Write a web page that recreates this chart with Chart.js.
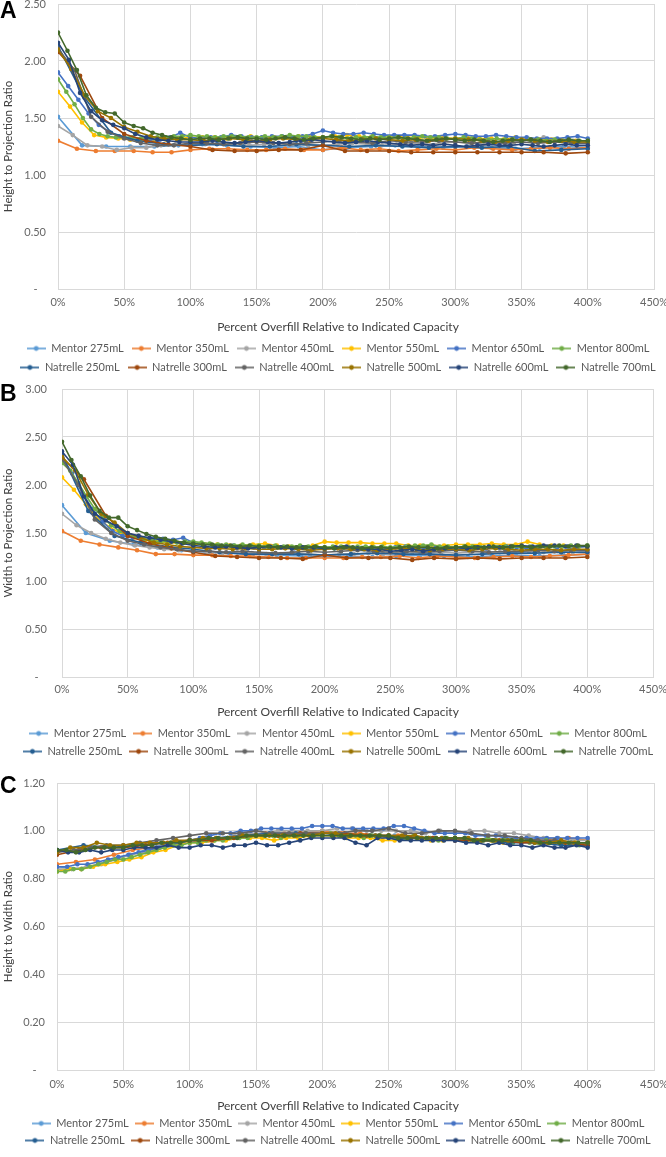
<!DOCTYPE html>
<html>
<head>
<meta charset="utf-8">
<script src="https://cdn.jsdelivr.net/npm/chart.js@4.4.1/dist/chart.umd.min.js"></script>
<style>
  html, body { margin:0; padding:0; background:#ffffff; }
  body { width:666px; height:1157px; position:relative; overflow:hidden; }
  .panel { position:absolute; left:0; width:666px; }
  .panel canvas { display:block; }
  .letter { position:absolute; left:0; font:bold 23px "Liberation Sans", Arial, sans-serif; line-height:1; color:#000; z-index:5; }
</style>
</head>
<body>
<div class="panel" style="top:-10px;height:393px"><canvas id="chartA" width="666" height="393"></canvas></div>
<div class="panel" style="top:375px;height:392px"><canvas id="chartB" width="666" height="392"></canvas></div>
<div class="panel" style="top:769px;height:387px"><canvas id="chartC" width="666" height="387"></canvas></div>
<div class="letter" style="top:-1px">A</div>
<div class="letter" style="top:382px">B</div>
<div class="letter" style="top:774px">C</div>
<script>
// ---------------- data ----------------
const seriesNames = ['Mentor 275mL','Mentor 350mL','Mentor 450mL','Mentor 550mL','Mentor 650mL','Mentor 800mL',
  'Natrelle 250mL','Natrelle 300mL','Natrelle 400mL','Natrelle 500mL','Natrelle 600mL','Natrelle 700mL'];
const implantVolumesMl = [275,350,450,550,650,800,250,300,400,500,600,700];
const fillStepMl = 50;            // each point = one further 50 mL of fill
const xAxisTitle = 'Percent Overfill Relative to Indicated Capacity';

// Panel A: height to projection ratio
const hpMentor275 = [1.51,1.26,1.25,1.25,1.25, 1.26,1.27,1.26,1.25,1.24, 1.25,1.22,1.24,1.25,1.26, 1.25,1.24,1.25,1.24,1.23, 1.24,1.25,1.24];
const hpMentor350 = [1.30,1.23,1.21,1.21,1.21, 1.20,1.20,1.22,1.23,1.23, 1.22,1.22,1.23,1.22,1.22, 1.24,1.22,1.23,1.21,1.22, 1.23,1.22,1.24,1.23,1.22, 1.23,1.24,1.23,1.24];
const hpMentor450 = [1.43,1.35,1.26,1.25,1.22, 1.24,1.24,1.26,1.27,1.26, 1.27,1.28,1.27,1.26,1.27, 1.28,1.27,1.26,1.26,1.27, 1.28,1.27,1.26,1.27,1.28, 1.27,1.28,1.29,1.28,1.27, 1.28,1.29,1.31,1.33,1.31, 1.30,1.29];
const hpMentor550 = [1.73,1.60,1.46,1.35,1.33, 1.32,1.31,1.31,1.30,1.31, 1.32,1.33,1.33,1.33,1.32, 1.33,1.34,1.33,1.33,1.33, 1.34,1.34,1.33,1.34,1.35, 1.34,1.33,1.33,1.34,1.33, 1.33,1.32,1.33,1.32,1.33, 1.32,1.32,1.31,1.33,1.32, 1.31,1.31,1.30,1.30,1.29];
const hpMentor650 = [1.90,1.78,1.66,1.54,1.44, 1.38,1.34,1.32,1.31,1.31, 1.31,1.33,1.37,1.33,1.32, 1.33,1.33,1.35,1.34,1.33, 1.33,1.34,1.34,1.33,1.34, 1.36,1.39,1.37,1.36,1.36, 1.37,1.36,1.35,1.35,1.35, 1.35,1.34,1.34,1.35,1.36, 1.35,1.34,1.34,1.35,1.34, 1.33,1.33,1.32,1.32,1.32, 1.33,1.34,1.32];
const hpMentor800 = [1.84,1.73,1.62,1.50,1.40, 1.36,1.34,1.33,1.33,1.33, 1.32,1.33,1.33,1.33,1.34, 1.34,1.35,1.34,1.34,1.33, 1.34,1.34,1.34,1.33,1.33, 1.34,1.33,1.34,1.35,1.34, 1.34,1.33,1.33,1.34,1.33, 1.32,1.33,1.33,1.34,1.33, 1.33,1.33,1.32,1.33,1.34, 1.33,1.33,1.32,1.32,1.33, 1.32,1.31,1.31,1.32,1.31, 1.31,1.30,1.31,1.31,1.30, 1.31,1.30,1.30,1.30,1.30];
const hpNatrelle250 = [2.13,1.68,1.37,1.30,1.27, 1.26,1.27,1.25,1.25,1.27, 1.26,1.25,1.26,1.25,1.24, 1.25,1.24,1.25,1.21,1.22, 1.23];
const hpNatrelle300 = [2.08,1.87,1.50,1.36,1.30, 1.27,1.25,1.22,1.21,1.21, 1.22,1.22,1.26,1.21,1.21, 1.21,1.20,1.20,1.20,1.20, 1.20,1.20,1.20,1.19,1.20];
const hpNatrelle400 = [2.11,1.92,1.51,1.38,1.32, 1.28,1.26,1.26,1.28,1.28, 1.27,1.28,1.29,1.28,1.27, 1.28,1.29,1.30,1.29,1.28, 1.30,1.29,1.29,1.30,1.29, 1.28,1.29,1.28,1.29,1.28, 1.29,1.28,1.28];
const hpNatrelle500 = [2.10,1.93,1.70,1.56,1.50, 1.42,1.38,1.34,1.32,1.31, 1.31,1.30,1.31,1.32,1.31, 1.30,1.31,1.32,1.31,1.31, 1.32,1.31,1.30,1.31,1.32, 1.31,1.30,1.31,1.30,1.31, 1.32,1.31,1.30,1.29,1.30, 1.31,1.30,1.29,1.30,1.29, 1.29];
const hpNatrelle600 = [2.16,2.01,1.72,1.56,1.48, 1.44,1.41,1.36,1.33,1.31, 1.30,1.29,1.29,1.29,1.30, 1.29,1.28,1.29,1.30,1.29, 1.28,1.29,1.30,1.31,1.30, 1.29,1.28,1.29,1.30,1.29, 1.28,1.27,1.26,1.27,1.26, 1.27,1.26,1.25,1.26,1.27, 1.26,1.26,1.27,1.26,1.25, 1.26,1.27,1.26,1.26];
const hpNatrelle700 = [2.25,2.09,1.92,1.70,1.59, 1.55,1.54,1.46,1.43,1.41, 1.37,1.35,1.33,1.32,1.31, 1.32,1.32,1.31,1.32,1.33, 1.32,1.32,1.31,1.32,1.33, 1.32,1.31,1.32,1.33,1.34, 1.33,1.32,1.31,1.32,1.31, 1.32,1.33,1.32,1.31,1.30, 1.31,1.32,1.31,1.30,1.31, 1.30,1.29,1.30,1.31,1.30, 1.31,1.30,1.29,1.30,1.31, 1.30,1.30];

// Panel B: width to projection ratio
const wpMentor275 = [1.79,1.50,1.42,1.38,1.35, 1.32,1.30,1.29,1.28,1.27, 1.26,1.25,1.26,1.25,1.26, 1.27,1.26,1.25,1.26,1.27, 1.26,1.27,1.28];
const wpMentor350 = [1.52,1.42,1.38,1.35,1.32, 1.28,1.28,1.27,1.27,1.26, 1.26,1.25,1.24,1.24,1.24, 1.24,1.25,1.25,1.26,1.24, 1.26,1.25,1.24,1.25,1.26, 1.25,1.26,1.27,1.28];
const wpMentor450 = [1.70,1.58,1.50,1.44,1.40, 1.37,1.35,1.33,1.32,1.31, 1.30,1.29,1.30,1.29,1.28, 1.28,1.29,1.28,1.27,1.28, 1.28,1.29,1.28,1.29,1.30, 1.29,1.30,1.29,1.30,1.31, 1.30,1.30,1.31,1.30,1.31, 1.30,1.31];
const wpMentor550 = [2.08,1.95,1.80,1.65,1.56, 1.49,1.45,1.43,1.41,1.40, 1.39,1.38,1.38,1.38,1.37, 1.37,1.38,1.39,1.37,1.36, 1.36,1.37,1.41,1.40,1.40, 1.40,1.39,1.39,1.39,1.37, 1.37,1.37,1.37,1.38,1.38, 1.38,1.39,1.38,1.38,1.41, 1.38,1.37,1.37,1.36,1.36];
const wpMentor650 = [2.30,2.12,1.92,1.75,1.62, 1.52,1.47,1.45,1.44,1.44, 1.44,1.43,1.45,1.40,1.38, 1.37,1.36,1.37,1.36,1.35, 1.35,1.36,1.35,1.34,1.35, 1.34,1.33,1.34,1.35,1.34, 1.34,1.33,1.34,1.35,1.36, 1.35,1.34,1.35,1.34,1.33, 1.34,1.35,1.34,1.35,1.36, 1.35,1.34,1.35,1.36,1.35, 1.36,1.35,1.36];
const wpMentor800 = [2.23,2.15,2.02,1.88,1.75, 1.66,1.58,1.52,1.48,1.46, 1.44,1.42,1.41,1.41,1.40, 1.41,1.41,1.40,1.39,1.38, 1.38,1.37,1.38,1.37,1.37, 1.36,1.37,1.36,1.36,1.37, 1.36,1.36,1.35,1.36,1.36, 1.35,1.36,1.36,1.35,1.36, 1.35,1.36,1.36,1.37,1.37, 1.38,1.36,1.36,1.35,1.36, 1.36,1.35,1.36,1.35,1.36, 1.36,1.35,1.36,1.36,1.35, 1.36,1.36,1.37,1.36,1.37];
const wpNatrelle250 = [2.32,1.73,1.47,1.40,1.36, 1.33,1.30,1.28,1.28,1.28, 1.27,1.28,1.29,1.28,1.28, 1.27,1.28,1.29,1.29,1.30, 1.30];
const wpNatrelle300 = [2.29,2.06,1.68,1.47,1.39, 1.34,1.30,1.26,1.25,1.24, 1.24,1.23,1.27,1.24,1.24, 1.24,1.22,1.24,1.23,1.24, 1.23,1.24,1.24,1.24,1.25];
const wpNatrelle400 = [2.27,2.00,1.64,1.50,1.42, 1.38,1.35,1.33,1.31,1.31, 1.30,1.31,1.30,1.29,1.30, 1.31,1.30,1.31,1.32,1.31, 1.30,1.31,1.30,1.31,1.32, 1.31,1.30,1.31,1.31,1.32, 1.31,1.32,1.32];
const wpNatrelle500 = [2.29,2.15,1.90,1.70,1.61, 1.50,1.45,1.40,1.38,1.36, 1.35,1.34,1.34,1.33,1.34, 1.33,1.33,1.34,1.33,1.32, 1.33,1.34,1.33,1.33,1.32, 1.33,1.34,1.33,1.32,1.33, 1.33,1.32,1.33,1.34,1.33, 1.32,1.33,1.33,1.32,1.33, 1.33];
const wpNatrelle600 = [2.35,2.21,1.88,1.70,1.63, 1.57,1.50,1.47,1.45,1.43, 1.41,1.39,1.37,1.36,1.35, 1.36,1.35,1.34,1.35,1.36, 1.35,1.34,1.35,1.35,1.34, 1.35,1.36,1.34,1.33,1.33, 1.31,1.32,1.33,1.31,1.33, 1.34,1.35,1.34,1.35,1.36, 1.35,1.36,1.37,1.36,1.37, 1.37,1.36,1.37,1.36];
const wpNatrelle700 = [2.45,2.26,2.09,1.89,1.73, 1.66,1.66,1.57,1.53,1.49, 1.46,1.44,1.42,1.40,1.39, 1.38,1.38,1.37,1.37,1.36, 1.37,1.36,1.36,1.35,1.36, 1.35,1.35,1.36,1.35,1.34, 1.35,1.35,1.34,1.35,1.35, 1.34,1.35,1.36,1.35,1.35, 1.34,1.35,1.35,1.36,1.35, 1.35,1.36,1.35,1.36,1.36, 1.35,1.36,1.36,1.37,1.36, 1.37,1.37];

// Panel C: height to width ratio
const hwMentor275 = [0.85,0.84,0.87,0.90,0.93, 0.95,0.96,0.97,0.98,0.99, 0.99,1.00,0.99,0.98,0.98, 0.97,0.97,0.97,0.96,0.96, 0.96,0.95,0.95];
const hwMentor350 = [0.86,0.87,0.88,0.90,0.92, 0.93,0.94,0.95,0.96,0.97, 0.98,0.99,0.99,0.99,1.00, 0.99,0.99,0.98,0.98,0.97, 0.97,0.97,0.96,0.96,0.96, 0.96,0.96,0.97,0.96];
const hwMentor450 = [0.84,0.84,0.85,0.86,0.88, 0.90,0.91,0.93,0.95,0.96, 0.97,0.97,0.98,0.99,0.99, 1.00,1.00,1.00,1.00,1.01, 1.01,1.00,1.00,1.00,1.00, 0.99,1.00,0.99,1.00,1.00, 0.99,0.99,0.98,0.97,0.97, 0.96,0.96];
const hwMentor550 = [0.83,0.84,0.84,0.85,0.86, 0.87,0.88,0.89,0.91,0.92, 0.94,0.95,0.95,0.96,0.96, 0.97,0.97,0.97,0.96,0.97, 0.97,0.98,0.98,0.98,0.97, 0.97,0.97,0.96,0.96,0.97, 0.97,0.96,0.96,0.97,0.96, 0.96,0.96,0.95,0.96,0.96, 0.95,0.95,0.95,0.95,0.95];
const hwMentor650 = [0.85,0.85,0.86,0.86,0.87, 0.88,0.89,0.90,0.91,0.92, 0.93,0.94,0.95,0.96,0.97, 0.98,0.99,0.99,1.00,1.00, 1.01,1.01,1.01,1.01,1.01, 1.02,1.02,1.02,1.01,1.01, 1.01,1.01,1.01,1.02,1.02, 1.01,1.00,0.99,0.99,0.99, 0.99,0.98,0.98,0.98,0.97, 0.97,0.97,0.97,0.97,0.97, 0.97,0.97,0.97];
const hwMentor800 = [0.83, 0.83,0.84,0.84,0.85,0.86,0.87,0.88,0.88, 0.89,0.90,0.91,0.92,0.93,0.94,0.94,0.95, 0.95,0.96,0.96,0.96,0.97,0.97,0.97,0.98, 0.98,0.98,0.97,0.98,0.98,0.99,0.98,0.99, 0.99,0.98,0.98,0.98,0.97,0.98,0.98,0.97, 0.97,0.97,0.98,0.97,0.97,0.96,0.97,0.97, 0.96,0.96,0.96,0.97,0.96,0.96,0.95,0.96, 0.95,0.95,0.96,0.95,0.95,0.95,0.94,0.95];
const hwNatrelle250 = [0.92,0.94,0.93,0.94,0.95, 0.96,0.97,0.98,0.99,0.99, 0.99,0.98,0.98,0.97,0.97, 0.96,0.96,0.95,0.95,0.94, 0.94];
const hwNatrelle300 = [0.90,0.92,0.93,0.93,0.94, 0.95,0.96,0.96,0.97,0.98, 0.98,0.99,0.99,0.99,0.98, 0.98,0.97,0.97,0.96,0.96, 0.96,0.95,0.95,0.95,0.94];
const hwNatrelle400 = [0.91,0.92,0.93,0.94,0.94, 0.95,0.96,0.97,0.98,0.99, 0.99,0.99,1.00,0.99,0.99, 0.99,0.99,0.99,1.00,1.00, 1.01,0.99,0.99,1.00,1.00, 0.99,0.98,0.98,0.97,0.96, 0.96,0.95,0.95];
const hwNatrelle500 = [0.91,0.93,0.93,0.95,0.94, 0.94,0.95,0.95,0.95,0.96, 0.96,0.97,0.97,0.97,0.98, 0.98,0.98,0.98,0.98,0.98, 0.99,0.99,0.98,0.98,0.98, 0.98,0.98,0.98,0.97,0.97, 0.97,0.97,0.96,0.96,0.96, 0.96,0.95,0.95,0.96,0.95, 0.95];
const hwNatrelle600 = [0.92,0.91,0.91,0.92,0.91, 0.92,0.92,0.93,0.93,0.93, 0.94,0.93,0.93,0.94,0.94, 0.93,0.94,0.94,0.95,0.94, 0.94,0.95,0.96,0.97,0.97, 0.97,0.97,0.95,0.94,0.97, 0.97,0.96,0.96,0.96,0.96, 0.96,0.96,0.95,0.95,0.94, 0.95,0.94,0.94,0.93,0.94, 0.93,0.93,0.94,0.93];
const hwNatrelle700 = [0.92,0.92,0.91,0.92,0.93, 0.93,0.93,0.93,0.94,0.94, 0.94,0.95,0.95,0.95,0.96, 0.96,0.97,0.97,0.97,0.97, 0.98,0.98,0.98,0.98,0.98, 0.98,0.98,0.98,0.98,0.98, 0.98,0.98,0.98,0.98,0.98, 0.98,0.97,0.97,0.97,0.97, 0.97,0.97,0.97,0.97,0.96, 0.96,0.96,0.96,0.96,0.96, 0.96,0.95,0.95,0.95,0.95, 0.95,0.95];

const heightToProjection = [hpMentor275,hpMentor350,hpMentor450,hpMentor550,hpMentor650,hpMentor800,
  hpNatrelle250,hpNatrelle300,hpNatrelle400,hpNatrelle500,hpNatrelle600,hpNatrelle700];
const widthToProjection = [wpMentor275,wpMentor350,wpMentor450,wpMentor550,wpMentor650,wpMentor800,
  wpNatrelle250,wpNatrelle300,wpNatrelle400,wpNatrelle500,wpNatrelle600,wpNatrelle700];
const heightToWidth = [hwMentor275,hwMentor350,hwMentor450,hwMentor550,hwMentor650,hwMentor800,
  hwNatrelle250,hwNatrelle300,hwNatrelle400,hwNatrelle500,hwNatrelle600,hwNatrelle700];

// ---------------- style ----------------
const seriesColors = ['#5B9BD5','#ED7D31','#A5A5A5','#FFC000','#4472C4','#70AD47',
  '#255E91','#9E480E','#636363','#997300','#264478','#43682B'];
const FONT = 'Lato, "Open Sans", "DejaVu Sans", sans-serif';
const GRID = '#d9d9d9';
const TICK = '#666666';
const TITLE = '#404040';
const LEGEND_TEXT = '#595959';
const LEGEND_ROW_LIMIT = 690;   // lets six entries share a row, as in the source

function legendIcon(color) {
  const c = document.createElement('canvas');
  c.width = 19; c.height = 8;
  const g = c.getContext('2d');
  g.strokeStyle = color; g.lineWidth = 1.6;
  g.beginPath(); g.moveTo(0, 4); g.lineTo(19, 4); g.stroke();
  g.fillStyle = color;
  g.beginPath(); g.arc(9.5, 4, 2.4, 0, Math.PI * 2); g.fill();
  return c;
}
const legendIcons = seriesColors.map(legendIcon);

// Widen the legend's row budget (measuring and drawing) while keeping it centred.
const legendRowPlugin = {
  id: 'legendRow',
  beforeLayout(chart) {
    const lg = chart.legend;
    if (lg && !lg._rowPatched) {
      const orig = lg.update.bind(lg);
      lg.update = (maxW, maxH, margins) => orig(Math.max(maxW, LEGEND_ROW_LIMIT), maxH, margins);
      lg._rowPatched = true;
    }
  },
  afterLayout(chart) {
    const lg = chart.legend;
    if (!lg) return;
    const c = (lg.left + lg.right) / 2;
    lg.left = c - LEGEND_ROW_LIMIT / 2;
    lg.right = c + LEGEND_ROW_LIMIT / 2;
    lg.width = LEGEND_ROW_LIMIT;
  }
};

function buildDatasets(series) {
  return series.map((values, i) => ({
    label: seriesNames[i],
    data: values.map((y, k) => ({ x: k * fillStepMl / implantVolumesMl[i] * 100, y })),
    borderColor: seriesColors[i],
    backgroundColor: seriesColors[i],
    borderWidth: 1.6,
    pointRadius: 2.3,
    pointBorderWidth: 0,
    pointHoverRadius: 2.3,
    tension: 0,
    order: series.length - i
  }));
}

function makeChart(id, series, p) {
  return new Chart(document.getElementById(id), {
    type: 'line',
    data: { datasets: buildDatasets(series) },
    plugins: [legendRowPlugin],
    options: {
      responsive: false,
      animation: false,
      devicePixelRatio: 1,
      layout: { padding: { top: 14, left: p.padLeft, right: p.padRight, bottom: 0 } },
      scales: {
        x: {
          type: 'linear', min: 0, max: 450,
          ticks: { stepSize: 50, autoSkip: false, maxRotation: 0, padding: p.xTickPad,
                   color: TICK, font: { family: FONT, size: 11 },
                   callback: v => v + '%' },
          grid: { color: GRID, lineWidth: 1, drawTicks: false },
          border: { color: GRID },
          afterFit: s => { s.height = p.xHeight; s.paddingLeft = 0; s.paddingRight = 0; }
        },
        y: {
          min: 0, max: p.yMax,
          ticks: { stepSize: p.yStep, padding: p.yTickPad, color: TICK, font: { family: FONT, size: 11 },
                   callback: v => Math.abs(v) < 1e-9 ? '-   ' : Number(v).toFixed(2) },
          grid: { color: GRID, lineWidth: 1, drawTicks: false },
          border: { color: GRID },
          title: { display: true, text: p.yTitle, color: TITLE, font: { family: FONT, size: 11.5 },
                   padding: { top: p.yTitlePad, bottom: 0 } },
          afterFit: s => { s.width = p.yWidth; s.paddingTop = 0; s.paddingBottom = 0; }
        }
      },
      plugins: {
        title: {
          display: true, position: 'bottom', weight: 500, text: xAxisTitle, color: TITLE,
          font: { family: FONT, size: 12, weight: 'normal', lineHeight: 1 },
          padding: { top: p.titleTop, bottom: p.titleBottom }
        },
        legend: {
          position: 'bottom',
          labels: {
            usePointStyle: true, pointStyleWidth: 19, padding: p.legendPad,
            color: LEGEND_TEXT, font: { family: FONT, size: 11 },
            sort: (a, b) => a.datasetIndex - b.datasetIndex,
            generateLabels: chart => {
              const items = Chart.defaults.plugins.legend.labels.generateLabels(chart);
              items.forEach(it => { it.pointStyle = legendIcons[it.datasetIndex]; });
              return items;
            }
          }
        },
        tooltip: { enabled: false }
      }
    }
  });
}

makeChart('chartA', heightToProjection, { yMax: 2.5, yStep: 0.5, yTitle: 'Height to Projection Ratio',
  padLeft: 22, padRight: 12, yWidth: 36, yTickPad: 12, yTitlePad: -21,
  xTickPad: 7, xHeight: 20, titleTop: 12, titleBottom: 2, legendPad: 8 });
makeChart('chartB', widthToProjection, { yMax: 3, yStep: 0.5, yTitle: 'Width to Projection Ratio',
  padLeft: 23, padRight: 13, yWidth: 39, yTickPad: 15, yTitlePad: -22,
  xTickPad: 6, xHeight: 20, titleTop: 9, titleBottom: 3, legendPad: 7 });
makeChart('chartC', heightToWidth, { yMax: 1.2, yStep: 0.2, yTitle: 'Height to Width Ratio',
  padLeft: 22, padRight: 12, yWidth: 35, yTickPad: 12, yTitlePad: -21,
  xTickPad: 8, xHeight: 21, titleTop: 9, titleBottom: 0, legendPad: 6 });
</script>
</body>
</html>
